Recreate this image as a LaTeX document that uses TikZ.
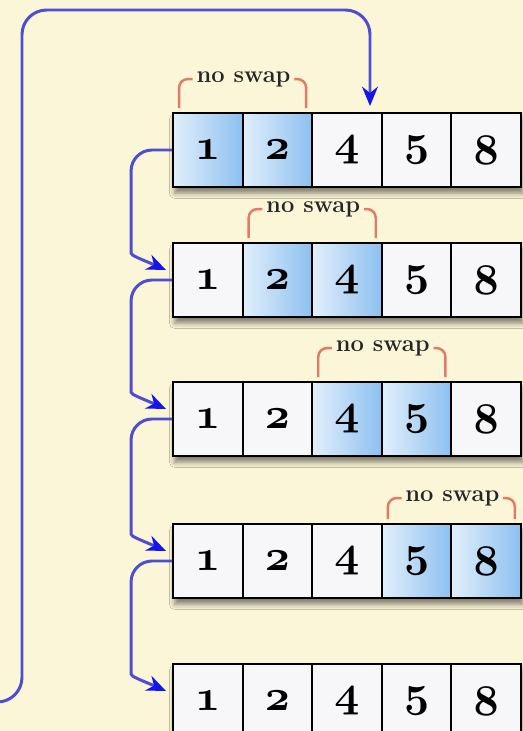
\documentclass[tikz,border=0pt]{standalone}
\usetikzlibrary{arrows.meta,bending,calc,shadows.blur}
\definecolor{paper}{RGB}{252,246,216}
\definecolor{cellfill}{RGB}{247,247,250}
\definecolor{hiblue}{RGB}{140,192,240}
\definecolor{loopblue}{RGB}{78,78,212}
\definecolor{tipblue}{RGB}{20,20,240}
\definecolor{brkred}{RGB}{226,122,100}
\newcommand\cellnum[1]{\mbox{\boldmath$\mathnormal{#1}$}}
\tikzset{
  cellv/.style={draw=black,line width=1.1pt,fill=cellfill,minimum width=1.392cm,minimum height=1.48cm,inner sep=0pt,font=\Huge},
  hl0/.style={},
  hl1/.style={left color=hiblue!25!white,right color=hiblue},
  rowbg/.style={fill=cellfill,blur shadow={shadow xshift=1pt,shadow yshift=-3.5pt,shadow blur radius=3pt,shadow opacity=50}},
  swapt/.style={font=\fontsize{13.5}{15}\selectfont\bfseries,text=black!85,inner sep=2pt},
  brk/.style={draw=brkred,line width=1.4pt,rounded corners=5pt},
  conn/.style={draw=loopblue,line width=1.7pt,-{Stealth[length=11pt,width=9pt,color=tipblue]}},
}
\begin{document}
\begin{tikzpicture}[x=0.02cm,y=0.02cm]
  \useasboundingbox (0,0) rectangle (523,731);
  \fill[paper] (0,0) rectangle (523,731);
  % the five passes
  \foreach \r/\y/\h in {1/581/1, 2/451/2, 3/312/3, 4/170/4, 5/30/9} {
    \fill[rowbg] (173,\y-37) rectangle (521,\y+37);
    \foreach \v [count=\c] in {1,2,4,5,8} {
      \pgfmathtruncatemacro\hq{(\c==\h || \c==\h+1) ? 1 : 0}
      \node[cellv,hl\hq] (r\r-\c) at ({138.2+69.6*\c},\y) {\cellnum{\v}};
    }
  }
  % compared pairs
  \foreach \r/\h/\d in {1/1/33, 2/2/33, 3/3/33, 4/4/25} {
    \pgfmathtruncatemacro\k{\h+1}
    \node[swapt] (ns\r) at ($(r\r-\h.north east)+(0,\d)$) {no swap};
    \draw[brk] (ns\r.west) -| ($(r\r-\h.north west)+(7,4)$);
    \draw[brk] (ns\r.east) -| ($(r\r-\k.north east)+(-7,4)$);
  }
  % step to the next pass
  \foreach \r/\n in {1/2, 2/3, 3/4, 4/5}
    \draw[conn] [rounded corners=12pt] (r\r-1.west) -| ($(r\n-1.west)+(-41,48)$)
      [sharp corners] .. controls ($(r\n-1.west)+(-41,24)$) and ($(r\n-1.west)+(-28,20)$)
      .. ($(r\n-1.west)+(-6,10)$);
  % back to the top
  \coordinate (loopin) at (-10,29);
  \coordinate (loopend) at ($(r1-3.north)+(23,6)$);
  \draw[conn,rounded corners=14pt] (loopin) -| (22,721) -| (loopend);
\end{tikzpicture}
\end{document}
